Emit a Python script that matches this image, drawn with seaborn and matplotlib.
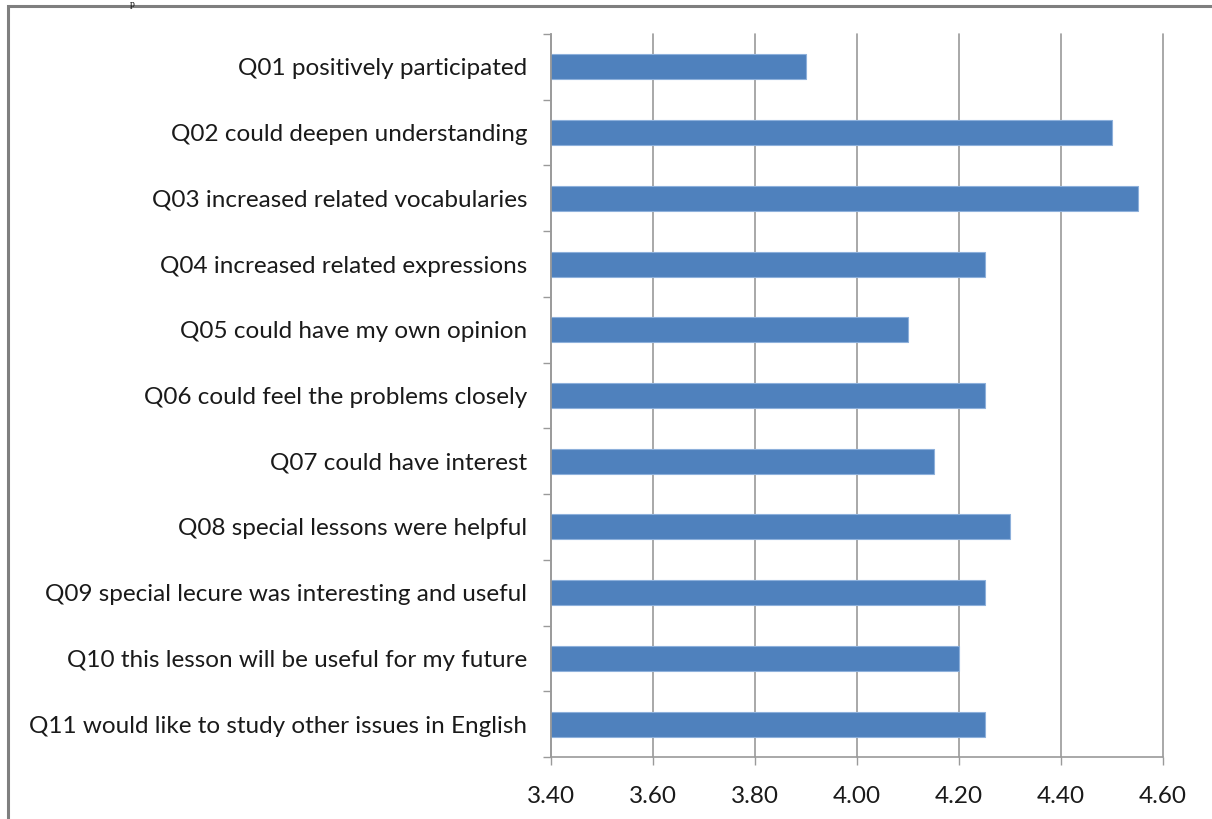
import matplotlib
matplotlib.use("Agg")
import matplotlib.pyplot as plt
import matplotlib.patches as mpatches
import seaborn as sns
import pandas as pd
import numpy as np

questions = [
    "Q01 positively participated",
    "Q02 could deepen understanding",
    "Q03 increased related vocabularies",
    "Q04 increased related expressions",
    "Q05 could have my own opinion",
    "Q06 could feel the problems closely",
    "Q07 could have interest",
    "Q08 special lessons were helpful",
    "Q09 special lecure was interesting and useful",
    "Q10 this lesson will be useful for my future",
    "Q11 would like to study other issues in English",
]
scores = [3.90, 4.50, 4.55, 4.25, 4.10, 4.25, 4.15, 4.30, 4.25, 4.20, 4.25]
x_ticks = [3.40, 3.60, 3.80, 4.00, 4.20, 4.40, 4.60]

df = pd.DataFrame({"question": questions, "score": scores})

sns.set_theme(style="white")
plt.rcParams["font.family"] = ["Lato", "DejaVu Sans"]

fig = plt.figure(figsize=(12.12, 8.19), dpi=100)
ax = fig.add_axes([551 / 1212, 62 / 819, 612 / 1212, 723 / 819])

sns.barplot(data=df, y="question", x="score", orient="h", color="#4F81BD",
            saturation=1, width=0.38, ax=ax, order=questions,
            edgecolor="#8DB0DB", linewidth=0.8)

ax.set_xlim(3.40, 4.60)
ax.set_ylim(len(questions) - 0.5, -0.5)
ax.set_xticks(x_ticks)
ax.set_xticklabels([f"{v:.2f}" for v in x_ticks], fontsize=17.5, color="#1a1a1a")
ax.set_yticks(range(len(questions)))
ax.set_yticklabels(questions, fontsize=17.5, color="#1a1a1a")
ax.set_yticks(np.arange(-0.5, len(questions), 1), minor=True)
ax.tick_params(axis="y", which="major", length=0, pad=17)
ax.tick_params(axis="y", which="minor", length=6, width=1, color="#9a9a9a", left=True)
ax.tick_params(axis="x", which="major", length=6, width=1, color="#9a9a9a", bottom=True, pad=15)
ax.set_xlabel("")
ax.set_ylabel("")
ax.grid(axis="x", color="#9a9a9a", linewidth=1.2)
for gl in ax.get_xgridlines():
    gl.set_clip_on(False)
ax.set_axisbelow(True)
for s in ["top", "right"]:
    ax.spines[s].set_visible(False)
for s in ["left", "bottom"]:
    ax.spines[s].set_color("#9a9a9a")
    ax.spines[s].set_linewidth(1.2)

# outer frame
frame = mpatches.Rectangle((8 / 1212, -0.05), 1.1, (819 - 6) / 819 + 0.05,
                           transform=fig.transFigure, fill=False,
                           edgecolor="#7f7f7f", linewidth=2.2, clip_on=False)
fig.patches.append(frame)

# caption fragment at top
fig.text(130 / 1212, 1.0, "p", fontsize=7, family=["Liberation Serif"],
         color="#111111", ha="left", va="top")

fig.savefig("out.png", dpi=100)
